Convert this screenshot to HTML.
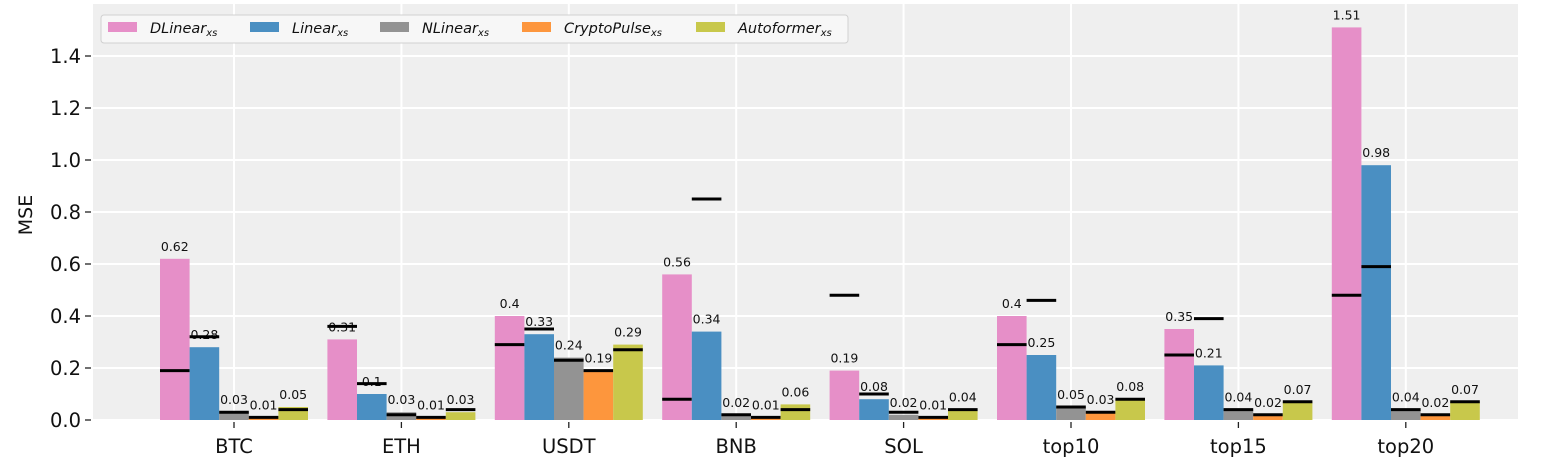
<!DOCTYPE html>
<html><head><meta charset="utf-8"><style>
body{margin:0;background:#fff;width:1548px;height:462px;overflow:hidden;font-family:"DejaVu Sans","Liberation Sans",sans-serif}
</style></head><body>
<svg id="c" width="1548" height="462" font-family="DejaVu Sans, Liberation Sans, sans-serif"></svg>
<script>
const categories=["BTC","ETH","USDT","BNB","SOL","top10","top15","top20"];
const seriesNames=["DLinear","Linear","NLinear","CryptoPulse","Autoformer"];
const colors=["#e68fc8","#4a8fc2","#939393","#fd963d","#c8c84b"];
const dlinear=[0.62,0.31,0.40,0.56,0.19,0.40,0.35,1.51];
const linear=[0.28,0.10,0.33,0.34,0.08,0.25,0.21,0.98];
const nlinear=[0.03,0.03,0.24,0.02,0.02,0.05,0.04,0.04];
const cryptopulse=[0.01,0.01,0.19,0.01,0.01,0.03,0.02,0.02];
const autoformer=[0.05,0.03,0.29,0.06,0.04,0.08,0.07,0.07];
const refD=[0.19,0.36,0.29,0.08,0.48,0.29,0.25,0.48];
const refL=[0.32,0.14,0.35,0.85,0.10,0.46,0.39,0.59];
const refN=[0.03,0.02,0.23,0.02,0.03,0.05,0.04,0.04];
const refC=[0.01,0.01,0.19,0.01,0.01,0.03,0.02,0.02];
const refA=[0.04,0.04,0.27,0.04,0.04,0.08,0.07,0.07];
const yTicks=[0,0.2,0.4,0.6,0.8,1.0,1.2,1.4];
const yTickLabels=["0.0","0.2","0.4","0.6","0.8","1.0","1.2","1.4"];

const series=[dlinear,linear,nlinear,cryptopulse,autoformer];
const refs=[refD,refL,refN,refC,refA];
const NS="http://www.w3.org/2000/svg";
const svg=document.getElementById("c");
const L=93,R=1518,T=4,B=420;
const y=v=>B-v*(B-56)/1.4;
const x0=234,step=167.4,bw=29.6;
const xc=i=>x0+i*step;
function el(t,a,p){const e=document.createElementNS(NS,t);for(const k in a)e.setAttribute(k,a[k]);(p||svg).appendChild(e);return e;}

const bg=el("rect",{x:L,y:T,width:R-L,height:B-T,fill:"#efefef"});


yTicks.forEach((t,i)=>{
  const g=el("line",{x1:L,x2:R,y1:y(t),y2:y(t),stroke:"#fff","stroke-width":2});
  
  
  el("line",{x1:L-8,x2:L-2,y1:y(t),y2:y(t),stroke:"#222","stroke-width":1.3});
  const tx=el("text",{x:L-12,y:y(t)+7,"text-anchor":"end","font-size":19.5,fill:"#111"});
  tx.textContent=yTickLabels[i];
  
  
});
categories.forEach((c,i)=>{
  const g=el("line",{x1:xc(i),x2:xc(i),y1:T,y2:B,stroke:"#fff","stroke-width":2});
  
  
});
categories.forEach((c,i)=>{
  series.forEach((s,j)=>{
    const bx=xc(i)-2.5*bw+j*bw;
    const r=el("rect",{x:bx,y:y(s[i]),width:bw,height:B-y(s[i]),fill:colors[j]});
    
    
    const lv=el("text",{x:bx+bw/2,y:y(s[i])-8,"text-anchor":"middle","font-size":12.5,fill:"#111"});
    lv.textContent=String(s[i]);
    
    
    const m=el("line",{x1:bx,x2:bx+bw,y1:y(refs[j][i]),y2:y(refs[j][i]),stroke:"#000","stroke-width":3});
    
    
  });
  el("line",{x1:xc(i),x2:xc(i),y1:B+2,y2:B+8,stroke:"#222","stroke-width":1.3});
  const t=el("text",{x:xc(i),y:B+33,"text-anchor":"middle","font-size":19.5,fill:"#111"});
  t.textContent=c;
  
  
});
const yl=el("text",{x:32,y:215,"text-anchor":"middle","font-size":19,fill:"#111",transform:"rotate(-90 32 215)"});
yl.textContent="MSE";



const lg=el("g",{});


el("rect",{x:101,y:15,width:747,height:28,rx:3,fill:"#f7f7f7",stroke:"#d0d0d0","stroke-width":1},lg);
const lx=[108,250,380,522,696];
seriesNames.forEach((n,j)=>{
  const e=el("g",{},lg);
  
  
  el("rect",{x:lx[j],y:22,width:29,height:10,fill:colors[j]},e);
  const t=el("text",{x:lx[j]+42,y:33,"font-size":14.5,"font-style":"italic",fill:"#111"},e);
  t.textContent=n;
  const s=el("tspan",{"font-size":10,dy:3},t);
  s.textContent="xs";
});
</script>
</body></html>
